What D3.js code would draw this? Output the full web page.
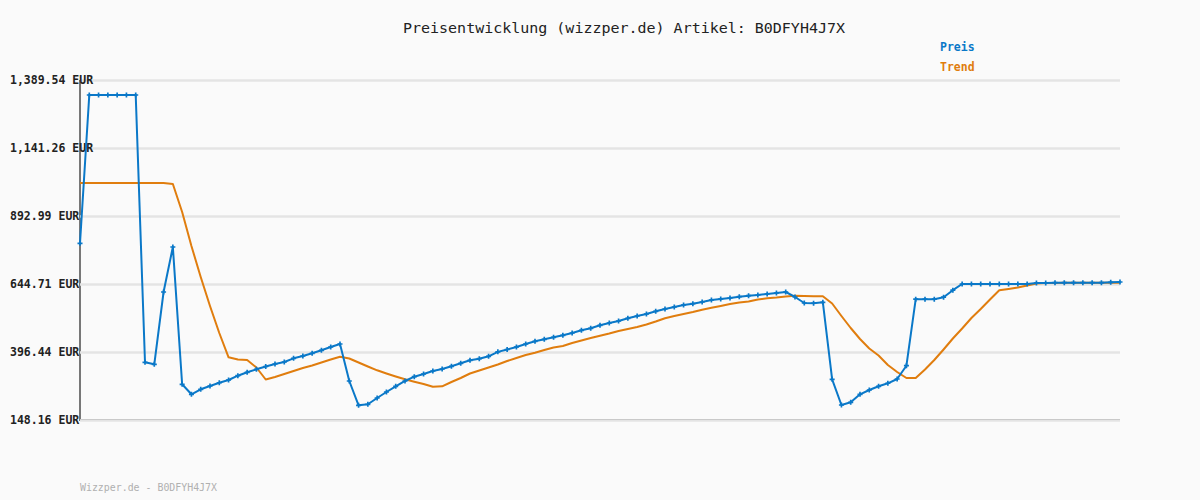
<!DOCTYPE html>
<html><head><meta charset="utf-8">
<script src="https://cdn.jsdelivr.net/npm/d3@7"></script>
<style>body{margin:0;background:#fafafa} svg{display:block}</style>
</head><body><svg id="c" width="1200" height="500"></svg>
<script>
const title = "Preisentwicklung (wizzper.de) Artikel: B0DFYH4J7X";
const footer = "Wizzper.de - B0DFYH4J7X";
const legendNames = ["Preis", "Trend"];
const yTicks = [148.16, 396.44, 644.71, 892.99, 1141.26, 1389.54];

const preis = [
  793.3, 1334.8, 1334.8, 1334.8, 1334.8, 1334.8, 1334.8, 358.8, 351.5, 615.5,
  779.8, 278.5, 242.0, 260.2, 272.3, 284.3, 294.2, 309.9, 322.3, 333.3,
  343.5, 352.6, 359.9, 373.4, 381.8, 391.7, 402.6, 414.7, 425.6, 290.6,
  201.8, 205.5, 228.5, 250.4, 271.2, 290.6, 306.3, 316.1, 327.1, 334.4,
  344.2, 355.2, 366.1, 372.0, 380.7, 397.0, 405.6, 414.7, 425.6, 435.5,
  442.8, 450.1, 457.4, 465.8, 475.7, 483.0, 493.9, 502.3, 509.6, 519.5,
  527.9, 535.2, 545.0, 553.4, 560.7, 568.0, 572.8, 579.0, 586.3, 590.0,
  593.6, 598.3, 602.0, 604.5, 608.2, 611.9, 615.5, 597.3, 575.4, 574.3,
  577.9, 296.8, 202.9, 212.8, 242.0, 257.7, 271.2, 282.2, 297.9, 346.4,
  589.2, 589.2, 589.2, 596.5, 622.1, 644.7, 644.7, 644.7, 644.7, 644.7,
  644.7, 644.7, 644.7, 648.4, 648.4, 649.5, 649.5, 649.5, 649.5, 649.5,
  649.5, 650.9, 652.0
];

const trend = [
  1013.5, 1013.5, 1013.5, 1013.5, 1013.5, 1013.5, 1013.5, 1013.5, 1013.5, 1013.5,
  1009.8, 907.6, 783.4, 670.3, 564.4, 465.8, 377.1, 369.1, 367.2, 339.8,
  296.0, 305.2, 316.1, 327.1, 338.0, 347.1, 358.1, 369.1, 379.3, 372.7,
  358.1, 343.5, 329.6, 317.9, 307.0, 296.8, 288.0, 279.6, 269.7, 271.2,
  286.9, 301.5, 317.9, 328.9, 339.8, 350.8, 363.6, 374.5, 385.5, 393.9,
  403.7, 412.9, 418.4, 429.3, 438.4, 447.6, 456.0, 464.0, 473.1, 480.4,
  487.7, 496.8, 507.8, 519.9, 527.9, 535.2, 542.5, 550.9, 557.8, 564.4,
  571.7, 577.2, 580.8, 588.1, 592.5, 595.4, 599.1, 601.6, 600.9, 600.2,
  599.8, 573.5, 527.9, 484.1, 443.9, 409.2, 383.7, 349.0, 323.4, 301.5,
  301.5, 332.5, 367.2, 405.6, 445.7, 482.2, 520.6, 553.4, 588.1, 621.7,
  626.5, 631.9, 639.2, 646.5, 648.4, 648.4, 649.5, 649.5, 649.5, 649.5,
  649.5, 649.5, 649.5
];

const BLUE = "#0a78c8", ORANGE = "#e07d0e";
const FONT = "'DejaVu Sans Mono','Liberation Mono',monospace";
const svg = d3.select("#c");
svg.append("rect").attr("width",1200).attr("height",500).attr("fill","#fafafa");

const x = d3.scaleLinear().domain([0, preis.length - 1]).range([80, 1120]);
const y = d3.scaleLinear().domain([yTicks[0], yTicks[yTicks.length-1]]).range([420, 80]);

// grid + labels
const yAxis = d3.axisLeft(y).tickValues(yTicks).tickSize(-1040).tickPadding(0)
  .tickFormat(d => d3.format(",.2f")(d) + " EUR");
const gy = svg.append("g").attr("transform", "translate(80,0)").call(yAxis);
gy.select(".domain").remove();
gy.selectAll(".tick line").attr("stroke", "#e4e4e4").attr("stroke-width", 2.5);
gy.selectAll(".tick text").attr("x", -70).attr("text-anchor", "start")
  .attr("font-family", FONT).attr("font-weight", "bold").attr("font-size", 11.5)
  .attr("fill", "#222");

// axis lines
svg.append("line").attr("x1",80).attr("x2",80).attr("y1",y.range()[1]).attr("y2",y.range()[0]+1)
  .attr("stroke","#777").attr("stroke-width",2);
svg.append("line").attr("x1",79).attr("x2",1120).attr("y1",y.range()[0]).attr("y2",y.range()[0])
  .attr("stroke","#777").attr("stroke-width",2);

// bring labels to front
gy.raise();

const line = d3.line().x((d,i) => x(i)).y(d => y(d));
svg.append("path").datum(trend).attr("d", line).attr("fill","none")
  .attr("stroke", ORANGE).attr("stroke-width", 2).attr("stroke-linejoin","round");
svg.append("path").datum(preis).attr("d", line).attr("fill","none")
  .attr("stroke", BLUE).attr("stroke-width", 2).attr("stroke-linejoin","round");
svg.append("g").selectAll("path").data(preis).join("path")
  .attr("transform", (d,i) => `translate(${x(i)},${y(d)})`)
  .attr("d", d3.symbol(d3.symbolCross, 14)).attr("fill", BLUE);

// title
svg.append("text").attr("x", 624).attr("y", 33).attr("text-anchor","middle")
  .attr("font-family", FONT).attr("font-size", 14).attr("fill","#222")
  .attr("textLength", 442).attr("lengthAdjust","spacingAndGlyphs").text(title);

// legend
const colors = [BLUE, ORANGE];
svg.append("g").selectAll("text").data(legendNames).join("text")
  .attr("x", 940).attr("y", (d,i) => 51 + i*20)
  .attr("font-family", FONT).attr("font-weight","bold").attr("font-size", 11.5)
  .attr("fill", (d,i) => colors[i]).text(d => d);

// footer
svg.append("text").attr("x", 80).attr("y", 491)
  .attr("font-family", FONT).attr("font-size", 10).attr("fill","#b0b0b0")
  .attr("textLength", 137).attr("lengthAdjust","spacingAndGlyphs").text(footer);
</script></body></html>
